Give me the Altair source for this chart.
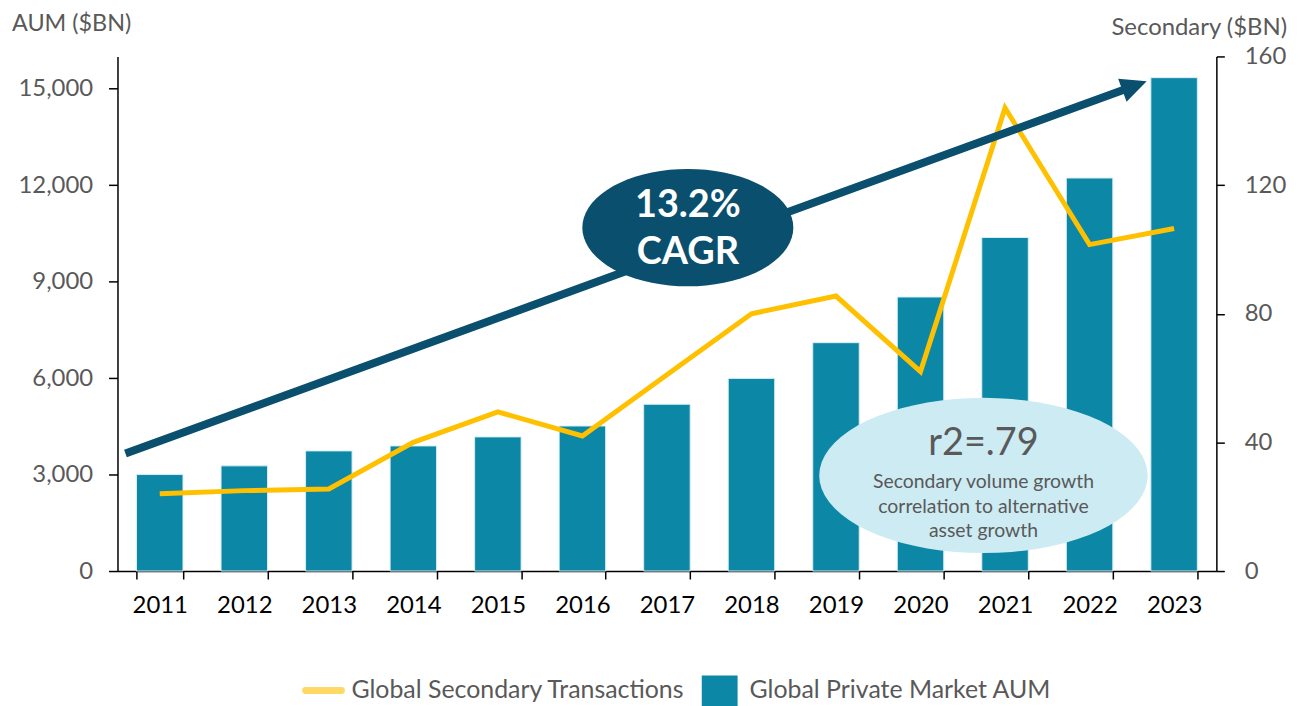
import altair as alt
import pandas as pd
import math

# ---- data ----
years = ["2011", "2012", "2013", "2014", "2015", "2016", "2017", "2018", "2019", "2020", "2021", "2022", "2023"]
aum = [3000, 3270, 3735, 3890, 4170, 4510, 5185, 5990, 7100, 8520, 10370, 12220, 15340]
secondary = [24, 25, 25.5, 40, 49.5, 42, 61, 80, 85.5, 62, 144, 101.5, 106.5]

series_names = ["Global Secondary Transactions", "Global Private Market AUM"]
cagr_text = ["13.2%", "CAGR"]
r2_title = "r2=.79"
r2_lines = ["Secondary volume growth", "correlation to alternative", "asset growth"]

df = pd.DataFrame({"year": years, "aum": aum, "secondary": secondary})
one = pd.DataFrame({"k": [0]})

FONT = "Lato"
GRAY = "#595959"
BAR = "#0c87a6"
LINE = "#ffc000"
NAVY = "#0a4f6e"

# layout (page coords -> plot coords)
X0, Y0 = 118, 55
W, H = 1104, 517
def px(x):
    return x - X0
def py(y):
    return y - Y0

x_enc = alt.X("year:N", sort=years,
              scale=alt.Scale(paddingInner=0.45, paddingOuter=0.225),
              axis=alt.Axis(title=None, labelAngle=0, tickBand="extent",
                            labelFont=FONT, labelFontSize=24, labelColor="black",
                            domainColor="black", domainWidth=1.5, tickColor="black",
                            tickWidth=1.5, tickSize=8, labelPadding=15))

bars = alt.Chart(df).mark_bar(color=BAR, stroke="#d8eef4", strokeWidth=1).encode(
    x=x_enc,
    y=alt.Y("aum:Q", scale=alt.Scale(domain=[0, 16000], nice=False),
            axis=alt.Axis(title=None, values=[0, 3000, 6000, 9000, 12000, 15000],
                          format=",.0f", labelFont=FONT, labelFontSize=24, labelColor=GRAY,
                          domainColor="black", domainWidth=1.5, tickColor="black",
                          tickWidth=1.5, tickSize=9, labelPadding=16, grid=False)),
)

line = alt.Chart(df).mark_line(color=LINE, strokeWidth=5, strokeJoin="miter").encode(
    x=alt.X("year:N", sort=years),
    y=alt.Y("secondary:Q", scale=alt.Scale(domain=[0, 160], nice=False),
            axis=alt.Axis(title=None, orient="right", values=[0, 40, 80, 120, 160],
                          labelFont=FONT, labelFontSize=24, labelColor=GRAY,
                          domainColor="black", domainWidth=1.5, tickColor="black",
                          tickWidth=1.5, tickSize=8, labelPadding=20, grid=False)),
)

# arrow
ax0, ay0 = 126, 454
ax1, ay1 = 1152, 80
L = math.hypot(ax1 - ax0, ay1 - ay0)
dx, dy = (ax1 - ax0) / L, (ay1 - ay0) / L
rx, ry = ax1 - 20 * dx, ay1 - 20 * dy
arrow_line = alt.Chart(one).mark_rule(color=NAVY, strokeWidth=8).encode(
    x=alt.value(px(ax0)), y=alt.value(py(ay0)), x2=alt.value(px(rx)), y2=alt.value(py(ry)))
tri = "M 1 0 L -1 -0.95 L -1 0.95 Z"
r = 13
cx, cy = ax1 - r * dx, ay1 - r * dy
ang = math.degrees(math.atan2(dy, dx)) % 360
arrow_head = alt.Chart(one).mark_point(shape=tri, filled=True, color=NAVY, opacity=1,
                                       size=(2 * r) ** 2, angle=ang, strokeWidth=0).encode(
    x=alt.value(px(cx)), y=alt.value(py(cy)))

def ellipse_path(ratio, n=72):
    pts = []
    for i in range(n):
        t = 2 * math.pi * i / n
        pts.append(f"{math.cos(t):.4f} {ratio * math.sin(t):.4f}")
    return "M " + " L ".join(pts) + " Z"

def ellipse(cx, cy, a, b, color):
    return alt.Chart(one).mark_point(shape=ellipse_path(b / a), filled=True, color=color,
                                     opacity=1, size=(2 * a) ** 2, strokeWidth=0).encode(
        x=alt.value(px(cx)), y=alt.value(py(cy)))

ell1 = ellipse(691, 227, 106, 59, NAVY)
ell2 = ellipse(988, 476, 165, 78, "#cdebf3")

def txt(s, x, y, size, color, weight="normal", align="center"):
    return alt.Chart(one).mark_text(text=s, font=FONT, fontSize=size, color=color,
                                    fontWeight=weight, align=align, baseline="middle").encode(
        x=alt.value(px(x)), y=alt.value(py(y)))

texts = [
    txt(cagr_text[0], 691, 205, 38, "white", "bold"),
    txt(cagr_text[1], 691, 253, 38, "white", "bold"),
    txt(r2_title, 988, 444, 38, GRAY),
    txt(r2_lines[0], 988, 483, 19.5, GRAY),
    txt(r2_lines[1], 988, 508, 19.5, GRAY),
    txt(r2_lines[2], 988, 532, 19.5, GRAY),
    txt("AUM ($BN)", 12, 22, 23.5, GRAY, align="left"),
    txt("Secondary ($BN)", 1293, 26, 24, GRAY, align="right"),
    txt(series_names[0], 353, 692, 25, GRAY, align="left"),
    txt(series_names[1], 753, 692, 25, GRAY, align="left"),
]

leg_line = alt.Chart(one).mark_rule(color="#ffd966", strokeWidth=7, strokeCap="round").encode(
    x=alt.value(px(307)), x2=alt.value(px(343)), y=alt.value(py(692)), y2=alt.value(py(692)))
leg_box = alt.Chart(one).mark_rect(color=BAR).encode(
    x=alt.value(px(705)), x2=alt.value(px(741)), y=alt.value(py(677)), y2=alt.value(py(713)))

chart = alt.layer(bars, line).resolve_scale(y="independent")
chart = alt.layer(chart, arrow_line, arrow_head, ell1, ell2, *texts, leg_line, leg_box).properties(
    width=W, height=H,
    autosize=alt.AutoSizeParams(type="none"),
    padding={"left": X0 - 8, "top": Y0 - 8, "right": 78, "bottom": 150},
).configure_view(stroke=None)

chart.save("out.html", embed_options={"renderer": "svg", "actions": False})
